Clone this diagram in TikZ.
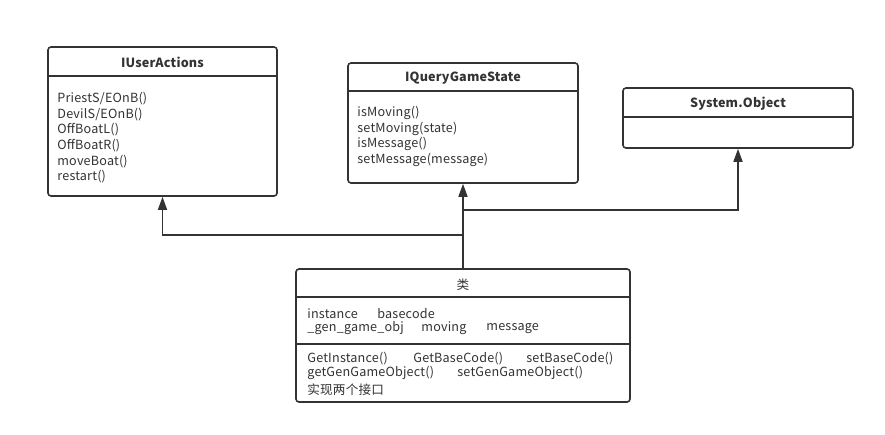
\documentclass[tikz,border=0pt]{standalone}
\usepackage{fontspec}
\setmainfont{Noto Sans CJK SC}[LetterSpace=1.5]
\usetikzlibrary{positioning,arrows.meta,calc}
\definecolor{umlgray}{HTML}{333333}

\begin{document}
\begin{tikzpicture}[x=1pt, y=-1pt,
  every node/.style={font=\fontsize{12.6}{14}\selectfont, text=umlgray},
  umlbox/.style={draw=umlgray, line width=1.6pt, rounded corners=3pt, fill=white, inner sep=0pt},
  title/.style={font=\fontsize{12.6}{14}\selectfont\bfseries},
  item/.style={anchor=west, inner sep=0pt},
  rule/.style={draw=umlgray, line width=1.6pt},
  gen/.style={draw=umlgray, line width=1.6pt, -{Triangle[length=13pt, width=9pt]}}
]
\useasboundingbox (0,0) rectangle (885,434);
% interface boxes
\node[umlbox, minimum width=229pt, minimum height=149pt] (ua) at (162.5,121.5) {};
\node[umlbox, minimum width=230pt, minimum height=120pt] (qg) at (463,123) {};
\node[umlbox, minimum width=230pt, minimum height=60pt] (so) at (738,118) {};
% class box
\node[umlbox, minimum width=334pt, minimum height=133pt] (cls) at (463,335.5) {};

% titles and dividers
\node[title] (uaT) at ($(ua.north)+(0,16)$) {IUserActions};
\draw[rule] ($(ua.north west)+(0,30)$) -- ($(ua.north east)+(0,30)$);
\node[title] (qgT) at ($(qg.north)+(0,16)$) {IQueryGameState};
\draw[rule] ($(qg.north west)+(0,29)$) -- ($(qg.north east)+(0,29)$);
\node[title] (soT) at ($(so.north)+(0,16)$) {System.Object};
\draw[rule] ($(so.north west)+(0,30)$) -- ($(so.north east)+(0,30)$);
\node (clsT) at ($(cls.north)+(0,17)$) {类};
\draw[rule] ($(cls.north west)+(0,29)$) -- ($(cls.north east)+(0,29)$);
\draw[rule] ($(cls.north west)+(0,76)$) -- ($(cls.north east)+(0,76)$);

% IUserActions operations
\foreach \t [count=\i from 0] in {PriestS/EOnB(), DevilS/EOnB(), OffBoatL(), OffBoatR(), moveBoat(), restart()}
  \node[item] (ua\i) at ($(ua.north west)+(10,52.5+15.6*\i)$) {\t};
% IQueryGameState operations
\foreach \t [count=\i from 0] in {isMoving(), setMoving(state), isMessage(), setMessage(message)}
  \node[item] (qg\i) at ($(qg.north west)+(10,51+15.6*\i)$) {\t};

% class attributes
\node[item] (a1) at ($(cls.north west)+(12,45)$) {instance};
\node[item] (a2) at ($(cls.north west)+(82,45)$) {basecode};
\node[item] (a3) at ($(cls.north west)+(12,60)$) {\_gen\_game\_obj};
\node[item] (a4) at ($(cls.north west)+(126,60)$) {moving};
\node[item] (a5) at ($(cls.north west)+(191,60)$) {message};
% class operations
\node[item] (m1) at ($(cls.north west)+(12,90)$) {GetInstance()};
\node[item] (m2) at ($(cls.north west)+(118,90)$) {GetBaseCode()};
\node[item] (m3) at ($(cls.north west)+(231,90)$) {setBaseCode()};
\node[item] (m4) at ($(cls.north west)+(12,105)$) {getGenGameObject()};
\node[item] (m5) at ($(cls.north west)+(162,105)$) {setGenGameObject()};
\node[item] (m6) at ($(cls.north west)+(12,121)$) {实现两个接口};

% realisation arrows
\coordinate (jR) at (463,210);
\coordinate (jL) at (463,235);
\draw[gen] (cls.north) -- (qg.south);
\draw[gen] (jR) -| (so.south);
\draw[gen] (jL) -| (ua.south);
\end{tikzpicture}
\end{document}
